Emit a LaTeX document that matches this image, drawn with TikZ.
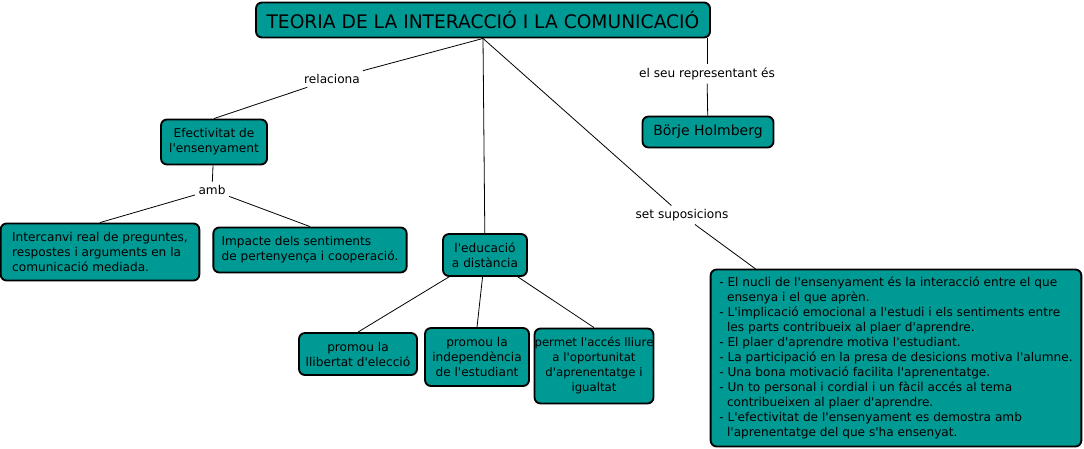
\documentclass[tikz,border=0pt]{standalone}
\usepackage{fontspec}
\setmainfont{DejaVu Sans}[Ligatures=TeXOff]
\usepackage{xcolor}
\usetikzlibrary{positioning}

\definecolor{verd}{HTML}{009A94}
\tikzset{
	caixa/.style={draw=black, fill=verd, rounded corners=4.5pt, line width=1.4pt, inner sep=0pt, align=center, font=\fontsize{9.1}{11.25}\selectfont},
	etiq/.style={inner sep=2.5pt, font=\fontsize{9.1}{11.25}\selectfont},
	linia/.style={draw=black, line width=0.6pt}
}

\begin{document}
\begin{tikzpicture}[x=0.75pt, y=-0.75pt]
\useasboundingbox (0,0) rectangle (1084,449);

\node[caixa, minimum width=340.5pt, minimum height=26.25pt, font=\fontsize{14}{16}\selectfont](Teo) at (483,20) {TEORIA DE LA INTERACCIÓ I LA COMUNICACIÓ};

\node[etiq](Rel) at (332,79) {relaciona};
	\draw[linia] (Teo.south) to (Rel);
\node[caixa, minimum width=79.5pt, minimum height=33.75pt](Efec) at (214,142) {Efectivitat de\\l'ensenyament};
	\draw[linia] (Rel) to (Efec.north);
\node[etiq](Amb) at (212,190) {amb};
	\draw[linia] (Efec) to (Amb);
\node[caixa, align=left, minimum width=149pt, minimum height=42.75pt](Inter) at (100,252) {Intercanvi real de preguntes,\\respostes i arguments en la\\comunicació mediada.};
	\draw[linia] (Amb) to (Inter.north);
\node[caixa, align=left, minimum width=145pt, minimum height=33.75pt](Imp) at (310,250) {Impacte dels sentiments\\de pertenyença i cooperació.};
	\draw[linia] (Amb) to (Imp.north);

\node[caixa, minimum width=63pt, minimum height=31.5pt](Edu) at (485,255) {l'educació\\a distància};
	\draw[linia] (Teo.south) to (Edu);
\node[caixa, minimum width=88.5pt, minimum height=31.5pt](Lli) at (358,354) {promou la\\llibertat d'elecció};
	\draw[linia] (Edu) to (Lli.north);
\node[caixa, minimum width=78pt, minimum height=43.5pt](Ind) at (477,357) {promou la\\independència\\de l'estudiant};
	\draw[linia] (Edu) to (Ind.north);
\node[caixa, minimum width=87pt, minimum height=56.25pt, font=\fontsize{8.8}{11.25}\selectfont](Perm) at (594,366) {permet l'accés lliure\\a l'oportunitat\\d'aprenentatge i\\igualtat};
	\draw[linia] (Edu) to (Perm.north);

\node[etiq](Rep) at (707,74) {el seu representant és};
\node[caixa, minimum width=98.25pt, minimum height=23.25pt, font=\fontsize{10.5}{12}\selectfont](Bor) at (708,132) {Börje Holmberg};
	\draw[linia] (Teo.south -| Rep) to (Rep);
	\draw[linia] (Rep) to (Bor);

\node[etiq](Sup) at (682,215) {set suposicions};
	\draw[linia] (Teo.south) to (Sup);
\node[caixa, align=left, minimum width=278pt, minimum height=132.75pt](Big) at (896,358) {- El nucli de l'ensenyament és la interacció entre el que\\
\ \ ensenya i el que aprèn.\\
- L'implicació emocional a l'estudi i els sentiments entre\\
\ \ les parts contribueix al plaer d'aprendre.\\
- El plaer d'aprendre motiva l'estudiant.\\
- La participació en la presa de desicions motiva l'alumne.\\
- Una bona motivació facilita l'aprenentatge.\\
- Un to personal i cordial i un fàcil accés al tema\\
\ \ contribueixen al plaer d'aprendre.\\
- L'efectivitat de l'ensenyament es demostra amb\\
\ \ l'aprenentatge del que s'ha ensenyat.};
\coordinate (BigTop) at (757,270);
	\draw[linia] (Sup) to (BigTop);
\end{tikzpicture}
\end{document}
